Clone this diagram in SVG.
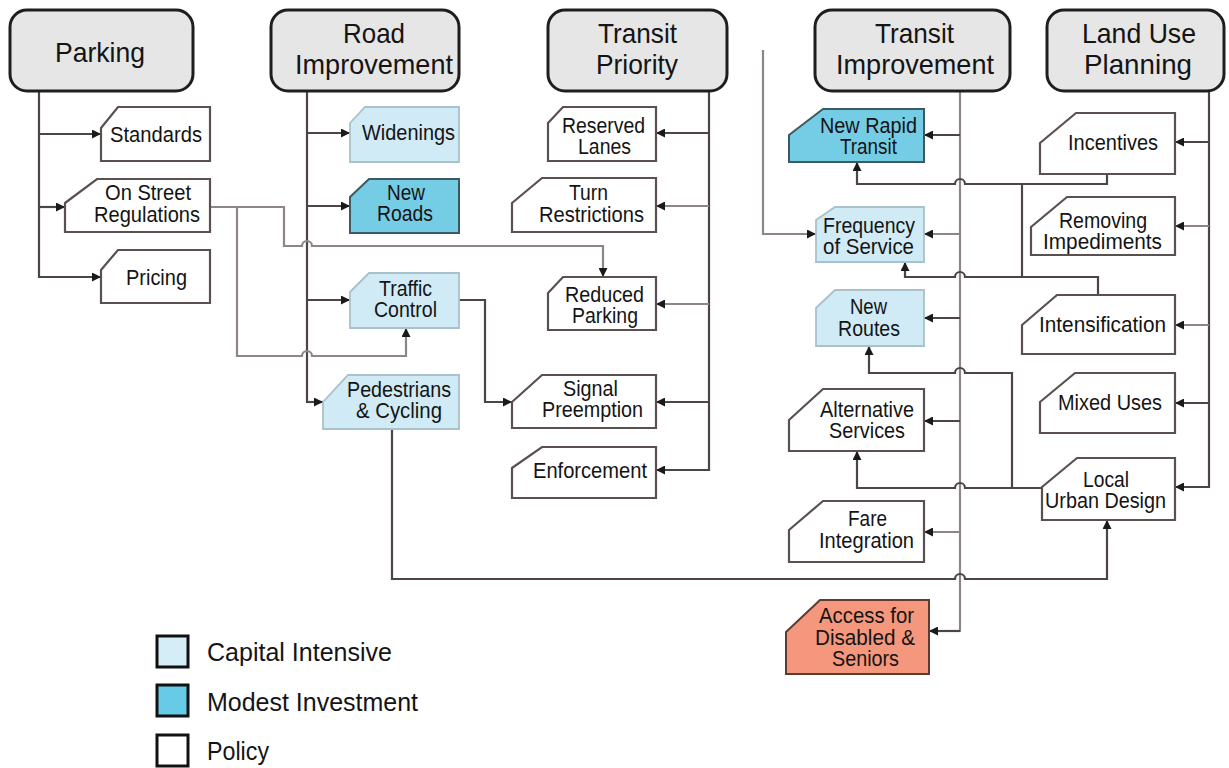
<svg xmlns="http://www.w3.org/2000/svg" width="1229" height="768" viewBox="0 0 1229 768">
<defs>
<marker id="ah" viewBox="0 0 10 10" refX="10" refY="5" markerWidth="10" markerHeight="9" markerUnits="userSpaceOnUse" orient="auto">
<path d="M0,0 L10,5 L0,10 z" fill="#1a1a1a"/>
</marker>
<style>
text{font-family:"Liberation Sans",Arial,sans-serif;fill:#141414}
.hd{font-size:28px}
.nt{font-size:22.5px}
.lg{font-size:26px}
.head{fill:#e6e6e6;stroke:#1e1e1e;stroke-width:3}
.pol{fill:#ffffff;stroke:#5a5050;stroke-width:2.2}
.cap{fill:#d0ebf6;stroke:#a9c1cb;stroke-width:1.8}
.mod{fill:#74cde5;stroke:#3d5a62;stroke-width:2}
.acc{fill:#f4977d;stroke:#5e3b32;stroke-width:2}
.dk{fill:none;stroke:#4d4545;stroke-width:2.2}
.lt{fill:none;stroke:#8e8686;stroke-width:2.2}
.ar{marker-end:url(#ah)}
</style>
</defs>

<g id="connectors">
<path class="dk" d="M39 91 V277 H101"/>
<path class="dk ar" d="M39 277 H101"/>
<path class="dk ar" d="M39 134 H101"/>
<path class="dk ar" d="M39 207 H65"/>
<path class="dk" d="M307 91 V402 H323"/>
<path class="dk ar" d="M307 402 H323"/>
<path class="dk ar" d="M307 133 H350"/>
<path class="dk ar" d="M307 206 H350"/>
<path class="dk ar" d="M307 300 H350"/>
<path class="lt ar" d="M210 207 H284 V246 H302 A5 5 0 0 1 312 246 H603 V277"/>
<path class="lt ar" d="M237 207 V356 H302 A5 5 0 0 1 312 356 H406 V328"/>
<path class="dk ar" d="M459 300 H485 V402 H512"/>
<path class="dk" d="M709 91 V470 H656"/>
<path class="dk ar" d="M709 470 H656"/>
<path class="dk ar" d="M709 133 H656"/>
<path class="lt ar" d="M709 206 H656"/>
<path class="lt ar" d="M709 304 H656"/>
<path class="dk ar" d="M709 402 H656"/>
<path class="lt" d="M960 91 V631 H929"/>
<path class="dk ar" d="M960 631 H929"/>
<path class="dk ar" d="M960 135 H924"/>
<path class="lt ar" d="M960 234 H924"/>
<path class="dk ar" d="M960 318 H924"/>
<path class="dk ar" d="M960 421 H924"/>
<path class="lt ar" d="M960 532 H924"/>
<path class="lt ar" d="M763 50 V234 H816"/>
<path class="dk ar" d="M1107 174 V184 H965 A5 5 0 0 0 955 184 H857 V162"/>
<path class="dk" d="M1022 184 V277"/>
<path class="dk ar" d="M1098 295 V277 H965 A5 5 0 0 0 955 277 H905 V262"/>
<path class="dk ar" d="M1012 488 V373 H965 A5 5 0 0 0 955 373 H869 V346"/>
<path class="dk ar" d="M1042 488 H965 A5 5 0 0 0 955 488 H857 V451"/>
<path class="dk ar" d="M392 429 V579 H955 A5 5 0 0 1 965 579 H1107 V520"/>
<path class="dk" d="M1209 91 V487 H1175"/>
<path class="dk ar" d="M1209 487 H1175"/>
<path class="dk ar" d="M1209 142 H1175"/>
<path class="lt ar" d="M1209 226 H1175"/>
<path class="lt ar" d="M1209 325 H1175"/>
<path class="dk ar" d="M1209 403 H1175"/>
</g>

<g id="parking">
<rect class="head" x="10" y="10" width="183" height="81" rx="17"/>
<text class="hd" x="55" y="62" textLength="90" lengthAdjust="spacingAndGlyphs">Parking</text>
</g>
<g id="road-improvement">
<rect class="head" x="271" y="10" width="188" height="81" rx="17"/>
<text class="hd"><tspan x="343" y="43" textLength="62" lengthAdjust="spacingAndGlyphs">Road</tspan><tspan x="295" y="74" textLength="158" lengthAdjust="spacingAndGlyphs">Improvement</tspan></text>
</g>
<g id="transit-priority">
<rect class="head" x="548" y="10" width="179" height="81" rx="17"/>
<text class="hd"><tspan x="598" y="43" textLength="79" lengthAdjust="spacingAndGlyphs">Transit</tspan><tspan x="596" y="74" textLength="82" lengthAdjust="spacingAndGlyphs">Priority</tspan></text>
</g>
<g id="transit-improvement">
<rect class="head" x="815" y="10" width="195" height="81" rx="17"/>
<text class="hd"><tspan x="875" y="43" textLength="79" lengthAdjust="spacingAndGlyphs">Transit</tspan><tspan x="836" y="74" textLength="158" lengthAdjust="spacingAndGlyphs">Improvement</tspan></text>
</g>
<g id="land-use-planning">
<rect class="head" x="1047" y="10" width="177" height="81" rx="17"/>
<text class="hd"><tspan x="1082" y="43" textLength="114" lengthAdjust="spacingAndGlyphs">Land Use</tspan><tspan x="1084" y="74" textLength="108" lengthAdjust="spacingAndGlyphs">Planning</tspan></text>
</g>

<g id="standards">
<polygon class="pol" points="101,128 118,107 210,107 210,161 101,161"/>
<text class="nt" x="110" y="142" textLength="92" lengthAdjust="spacingAndGlyphs">Standards</text>
</g>
<g id="on-street-regulations">
<polygon class="pol" points="65,203 97,179 210,179 210,232 65,232"/>
<text class="nt"><tspan x="105" y="200" textLength="86" lengthAdjust="spacingAndGlyphs">On Street</tspan><tspan x="94" y="222" textLength="106" lengthAdjust="spacingAndGlyphs">Regulations</tspan></text>
</g>
<g id="pricing">
<polygon class="pol" points="101,270 118,250 210,250 210,303 101,303"/>
<text class="nt" x="126" y="285" textLength="61" lengthAdjust="spacingAndGlyphs">Pricing</text>
</g>

<g id="widenings">
<polygon class="cap" points="350,123 365,107 459,107 459,162 350,162"/>
<text class="nt" x="362" y="140" textLength="93" lengthAdjust="spacingAndGlyphs">Widenings</text>
</g>
<g id="new-roads">
<polygon class="mod" points="350,197 369,179 459,179 459,233 350,233"/>
<text class="nt"><tspan x="387" y="200" textLength="38" lengthAdjust="spacingAndGlyphs">New</tspan><tspan x="377" y="221" textLength="56" lengthAdjust="spacingAndGlyphs">Roads</tspan></text>
</g>
<g id="traffic-control">
<polygon class="cap" points="350,292 369,273 459,273 459,328 350,328"/>
<text class="nt"><tspan x="379" y="296" textLength="53" lengthAdjust="spacingAndGlyphs">Traffic</tspan><tspan x="374" y="317" textLength="63" lengthAdjust="spacingAndGlyphs">Control</tspan></text>
</g>
<g id="pedestrians-cycling">
<polygon class="cap" points="323,402 348,375 459,375 459,429 323,429"/>
<text class="nt"><tspan x="347" y="397" textLength="104" lengthAdjust="spacingAndGlyphs">Pedestrians</tspan><tspan x="356" y="418" textLength="86" lengthAdjust="spacingAndGlyphs">&amp; Cycling</tspan></text>
</g>

<g id="reserved-lanes">
<polygon class="pol" points="548,123 563,107 656,107 656,161 548,161"/>
<text class="nt"><tspan x="562" y="133" textLength="83" lengthAdjust="spacingAndGlyphs">Reserved</tspan><tspan x="578" y="154" textLength="53" lengthAdjust="spacingAndGlyphs">Lanes</tspan></text>
</g>
<g id="turn-restrictions">
<polygon class="pol" points="512,203 542,178 656,178 656,232 512,232"/>
<text class="nt"><tspan x="569" y="200" textLength="39" lengthAdjust="spacingAndGlyphs">Turn</tspan><tspan x="539" y="222" textLength="105" lengthAdjust="spacingAndGlyphs">Restrictions</tspan></text>
</g>
<g id="reduced-parking">
<polygon class="pol" points="548,293 563,277 656,277 656,330 548,330"/>
<text class="nt"><tspan x="565" y="302" textLength="79" lengthAdjust="spacingAndGlyphs">Reduced</tspan><tspan x="572" y="323" textLength="66" lengthAdjust="spacingAndGlyphs">Parking</tspan></text>
</g>
<g id="signal-preemption">
<polygon class="pol" points="512,402 542,375 656,375 656,428 512,428"/>
<text class="nt"><tspan x="563" y="396" textLength="55" lengthAdjust="spacingAndGlyphs">Signal</tspan><tspan x="542" y="417" textLength="101" lengthAdjust="spacingAndGlyphs">Preemption</tspan></text>
</g>
<g id="enforcement">
<polygon class="pol" points="512,468 542,447 656,447 656,498 512,498"/>
<text class="nt" x="533" y="478" textLength="114" lengthAdjust="spacingAndGlyphs">Enforcement</text>
</g>

<g id="new-rapid-transit">
<polygon class="mod" points="789,135 823,109 924,109 924,162 789,162"/>
<text class="nt"><tspan x="820" y="133" textLength="97" lengthAdjust="spacingAndGlyphs">New Rapid</tspan><tspan x="840" y="154" textLength="57" lengthAdjust="spacingAndGlyphs">Transit</tspan></text>
</g>
<g id="frequency-of-service">
<polygon class="cap" points="816,220 835,207 924,207 924,262 816,262"/>
<text class="nt"><tspan x="823" y="233" textLength="92" lengthAdjust="spacingAndGlyphs">Frequency</tspan><tspan x="823" y="254" textLength="91" lengthAdjust="spacingAndGlyphs">of Service</tspan></text>
</g>
<g id="new-routes">
<polygon class="cap" points="816,308 835,290 924,290 924,346 816,346"/>
<text class="nt"><tspan x="850" y="314" textLength="37" lengthAdjust="spacingAndGlyphs">New</tspan><tspan x="838" y="336" textLength="62" lengthAdjust="spacingAndGlyphs">Routes</tspan></text>
</g>
<g id="alternative-services">
<polygon class="pol" points="789,420 823,389 924,389 924,451 789,451"/>
<text class="nt"><tspan x="820" y="417" textLength="94" lengthAdjust="spacingAndGlyphs">Alternative</tspan><tspan x="829" y="438" textLength="76" lengthAdjust="spacingAndGlyphs">Services</tspan></text>
</g>
<g id="fare-integration">
<polygon class="pol" points="789,530 823,501 924,501 924,562 789,562"/>
<text class="nt"><tspan x="848" y="526" textLength="39" lengthAdjust="spacingAndGlyphs">Fare</tspan><tspan x="819" y="548" textLength="95" lengthAdjust="spacingAndGlyphs">Integration</tspan></text>
</g>
<g id="access-disabled-seniors">
<polygon class="acc" points="786,632 820,600 929,600 929,674 786,674"/>
<text class="nt"><tspan x="819" y="623" textLength="95" lengthAdjust="spacingAndGlyphs">Access for</tspan><tspan x="815" y="645" textLength="100" lengthAdjust="spacingAndGlyphs">Disabled &amp;</tspan><tspan x="832" y="666" textLength="67" lengthAdjust="spacingAndGlyphs">Seniors</tspan></text>
</g>

<g id="incentives">
<polygon class="pol" points="1040,143 1076,113 1175,113 1175,174 1040,174"/>
<text class="nt" x="1068" y="150" textLength="90" lengthAdjust="spacingAndGlyphs">Incentives</text>
</g>
<g id="removing-impediments">
<polygon class="pol" points="1031,227 1067,197 1175,197 1175,255 1031,255"/>
<text class="nt"><tspan x="1059" y="228" textLength="88" lengthAdjust="spacingAndGlyphs">Removing</tspan><tspan x="1043" y="249" textLength="119" lengthAdjust="spacingAndGlyphs">Impediments</tspan></text>
</g>
<g id="intensification">
<polygon class="pol" points="1022,325 1057,295 1175,295 1175,354 1022,354"/>
<text class="nt" x="1039" y="332" textLength="127" lengthAdjust="spacingAndGlyphs">Intensification</text>
</g>
<g id="mixed-uses">
<polygon class="pol" points="1040,402 1075,373 1175,373 1175,433 1040,433"/>
<text class="nt" x="1058" y="410" textLength="104" lengthAdjust="spacingAndGlyphs">Mixed Uses</text>
</g>
<g id="local-urban-design">
<polygon class="pol" points="1042,487 1077,458 1175,458 1175,520 1042,520"/>
<text class="nt"><tspan x="1083" y="487" textLength="46" lengthAdjust="spacingAndGlyphs">Local</tspan><tspan x="1045" y="508" textLength="121" lengthAdjust="spacingAndGlyphs">Urban Design</tspan></text>
</g>

<g id="legend">
<rect x="157" y="636" width="31" height="31" fill="#d5edf6" stroke="#111" stroke-width="3"/>
<text class="lg" x="207" y="661" textLength="185" lengthAdjust="spacingAndGlyphs">Capital Intensive</text>
<rect x="157" y="685" width="31" height="31" fill="#67cbe8" stroke="#111" stroke-width="3"/>
<text class="lg" x="207" y="711" textLength="211" lengthAdjust="spacingAndGlyphs">Modest Investment</text>
<rect x="157" y="735" width="31" height="31" fill="#ffffff" stroke="#111" stroke-width="3"/>
<text class="lg" x="207" y="760" textLength="62" lengthAdjust="spacingAndGlyphs">Policy</text>
</g>
</svg>
